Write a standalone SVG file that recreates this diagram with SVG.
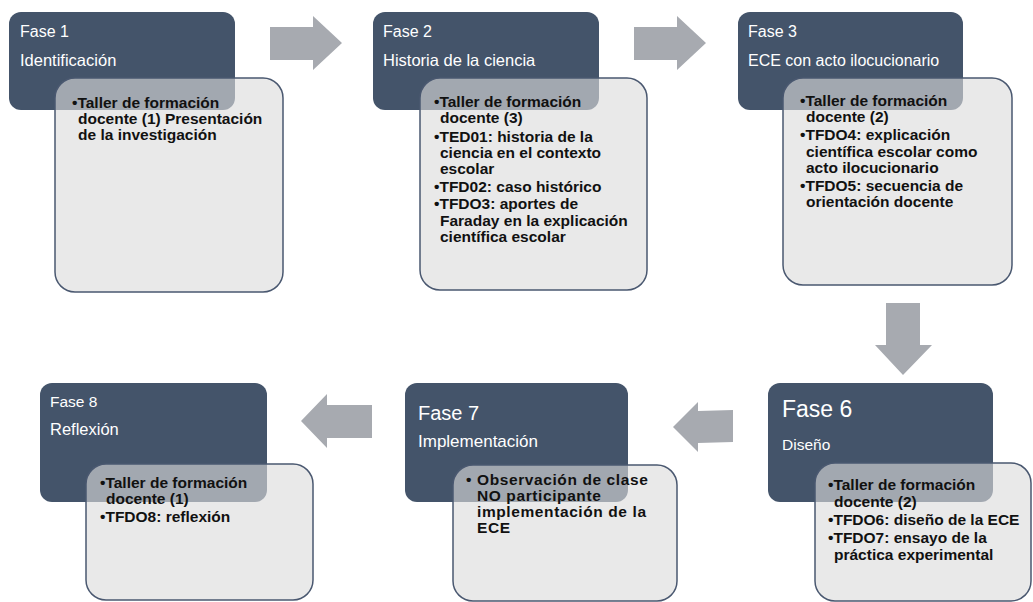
<svg xmlns="http://www.w3.org/2000/svg" width="1033" height="602" viewBox="0 0 1033 602">
<style>
.dark{fill:#44546a;}
.light{fill:#dcdcdc;fill-opacity:0.62;stroke:#4a5870;stroke-width:1.5;}
.arrow{fill:#a7aab0;}
.t{font-family:"Liberation Sans",Arial,sans-serif;fill:#ffffff;}
.b{font-family:"Liberation Sans",Arial,sans-serif;font-weight:bold;fill:#111111;font-size:15.5px;}
</style>
<rect width="1033" height="602" fill="#ffffff"/>
<g id="connectors">
<polygon class="arrow" points="270,27 313,27 313,16 342,43 313,70 313,60 270,60"/>
<polygon class="arrow" points="634,27 677,27 677,16 706,43 677,70 677,60 634,60"/>
<polygon class="arrow" points="886,303 920,303 920,345 932,345 903,375 875,345 886,345"/>
<polygon class="arrow" points="733,410 698,411 698,402 673,427 698,452 698,443 733,442"/>
<polygon class="arrow" points="372,405 327,405 327,394 301,421 327,448 327,438 372,438"/>
</g>
<g id="fase1">
<rect class="dark" x="9" y="12" width="226" height="98" rx="12"/>
<text class="t" x="20" y="37" font-size="16">Fase 1</text>
<text class="t" x="20" y="66" font-size="16.5">Identificación</text>
<rect class="light" x="55" y="78" width="228" height="214" rx="20"/>
<text class="b"><tspan x="72" y="108">•Taller de formación</tspan><tspan x="78" y="124">docente (1) Presentación</tspan><tspan x="78" y="140">de la investigación</tspan></text>
</g>
<g id="fase2">
<rect class="dark" x="373" y="12" width="226" height="98" rx="12"/>
<text class="t" x="383" y="37" font-size="16">Fase 2</text>
<text class="t" x="383" y="66" font-size="16.5">Historia de la ciencia</text>
<rect class="light" x="420" y="78" width="227" height="212" rx="20"/>
<text class="b"><tspan x="434" y="107">•Taller de formación</tspan><tspan x="440" y="123">docente (3)</tspan><tspan x="434" y="142">•TED01: historia de la</tspan><tspan x="440" y="158">ciencia en el contexto</tspan><tspan x="440" y="174">escolar</tspan><tspan x="434" y="192">•TFD02: caso histórico</tspan><tspan x="434" y="209">•TFDO3: aportes de</tspan><tspan x="440" y="226">Faraday en la explicación</tspan><tspan x="440" y="242">científica escolar</tspan></text>
</g>
<g id="fase3">
<rect class="dark" x="738" y="12" width="225" height="98" rx="12"/>
<text class="t" x="748" y="37" font-size="16">Fase 3</text>
<text class="t" x="748" y="66" font-size="16">ECE con acto ilocucionario</text>
<rect class="light" x="783" y="78" width="229" height="207" rx="20"/>
<text class="b"><tspan x="800" y="106">•Taller de formación</tspan><tspan x="806" y="122">docente (2)</tspan><tspan x="800" y="140">•TFDO4: explicación</tspan><tspan x="806" y="157">científica escolar como</tspan><tspan x="806" y="173">acto ilocucionario</tspan><tspan x="800" y="191">•TFDO5: secuencia de</tspan><tspan x="806" y="207">orientación docente</tspan></text>
</g>
<g id="fase6">
<rect class="dark" x="768" y="383" width="225" height="119" rx="12"/>
<text class="t" x="782" y="417" font-size="23">Fase 6</text>
<text class="t" x="782" y="450" font-size="15.5">Diseño</text>
<rect class="light" x="815" y="463" width="216" height="138" rx="20"/>
<text class="b"><tspan x="828" y="490">•Taller de formación</tspan><tspan x="834" y="507">docente (2)</tspan><tspan x="828" y="525">•TFDO6: diseño de la ECE</tspan><tspan x="828" y="543">•TFDO7: ensayo de la</tspan><tspan x="834" y="560">práctica experimental</tspan></text>
</g>
<g id="fase7">
<rect class="dark" x="405" y="383" width="223" height="119" rx="12"/>
<text class="t" x="418" y="420" font-size="20">Fase 7</text>
<text class="t" x="418" y="447" font-size="17">Implementación</text>
<rect class="light" x="453" y="465" width="224" height="136" rx="20"/>
<text class="b" style="font-size:15.5px;letter-spacing:0.6px"><tspan x="466" y="485">•</tspan><tspan x="477" y="485">Observación de clase</tspan><tspan x="477" y="501">NO participante</tspan><tspan x="477" y="517">implementación de la</tspan><tspan x="477" y="533">ECE</tspan></text>
</g>
<g id="fase8">
<rect class="dark" x="40" y="383" width="227" height="119" rx="12"/>
<text class="t" x="50" y="407" font-size="15.5">Fase 8</text>
<text class="t" x="50" y="435" font-size="16.5">Reflexión</text>
<rect class="light" x="86" y="464" width="227" height="136" rx="20"/>
<text class="b"><tspan x="100" y="488">•Taller de formación</tspan><tspan x="106" y="504">docente (1)</tspan><tspan x="100" y="522">•TFDO8: reflexión</tspan></text>
</g>
</svg>
